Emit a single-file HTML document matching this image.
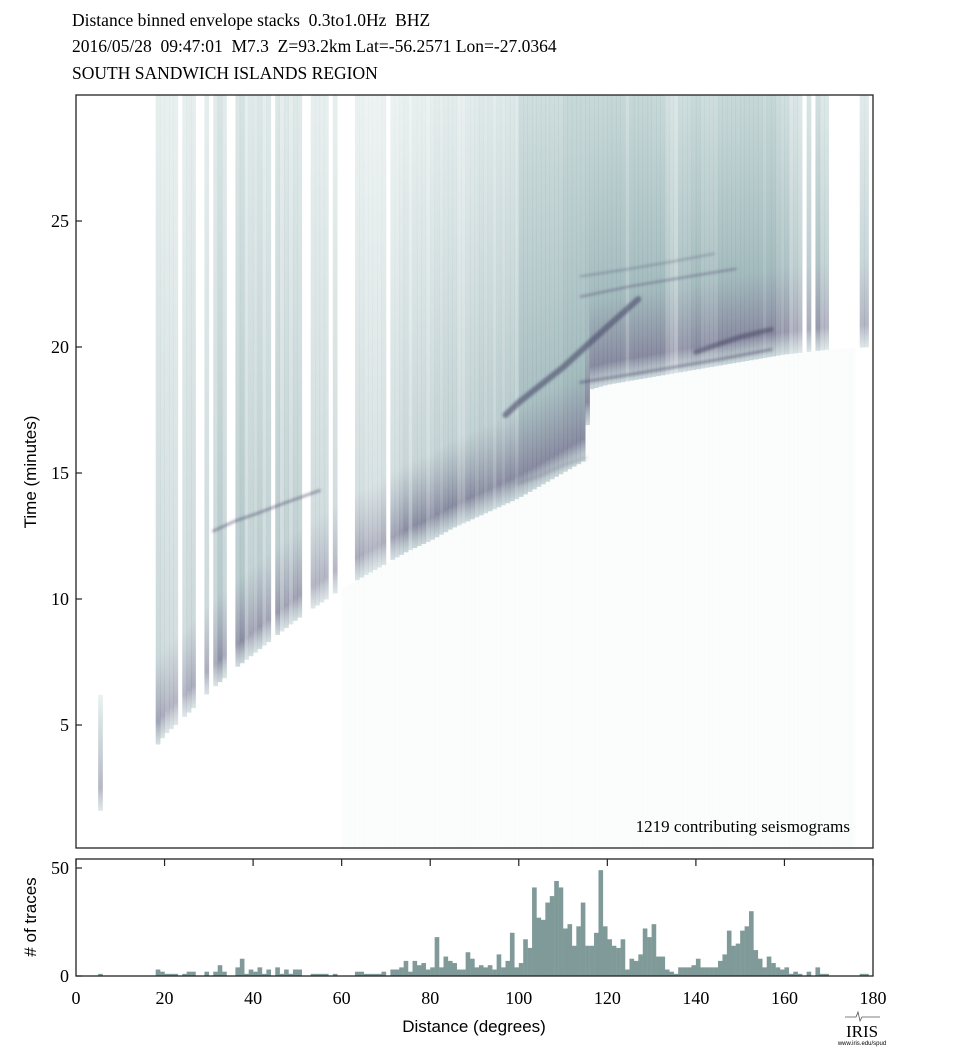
<!DOCTYPE html>
<html><head><meta charset="utf-8"><style>
html,body{margin:0;padding:0;background:#fff;}
svg{display:block;}
.serif{font-family:"Liberation Serif",serif;}
.sans{font-family:"Liberation Sans",sans-serif;}
.pre{white-space:pre;}
</style></head><body>
<svg id="chart" width="972" height="1060" viewBox="0 0 972 1060" xmlns="http://www.w3.org/2000/svg">
<defs id="defs"><filter id="soft" x="-5%" y="-50%" width="110%" height="200%"><feGaussianBlur stdDeviation="1.2"/></filter></defs>
<g class="serif pre" font-size="17.5" fill="#000">
<text x="72" y="26" class="pre">Distance binned envelope stacks  0.3to1.0Hz  BHZ</text>
<text x="72" y="52" class="pre">2016/05/28  09:47:01  M7.3  Z=93.2km Lat=-56.2571 Lon=-27.0364</text>
<text x="72" y="79" class="pre">SOUTH SANDWICH ISLANDS REGION</text>
</g>
<g id="heat"></g>
<g id="phases" filter="url(#soft)"></g>
<rect x="76" y="95" width="797" height="753" fill="none" stroke="#222" stroke-width="1.3"/>
<g id="yticks"></g>
<text x="850" y="832" text-anchor="end" class="serif" font-size="17">1219 contributing seismograms</text>
<text transform="translate(36,472) rotate(-90)" text-anchor="middle" class="sans" font-size="17">Time (minutes)</text>
<g id="hist"></g>
<rect x="76" y="859" width="797" height="117" fill="none" stroke="#222" stroke-width="1.3"/>
<g id="xticks"></g>
<text transform="translate(36,917) rotate(-90)" text-anchor="middle" class="sans" font-size="17"># of traces</text>
<text x="474" y="1032" text-anchor="middle" class="sans" font-size="17">Distance (degrees)</text>
<g>
<path d="M845 1017 L856 1017 L858 1012 L860 1021 L862 1017 L880 1017" fill="none" stroke="#555" stroke-width="0.8"/>
<text x="862" y="1037" text-anchor="middle" class="serif" font-size="17">IRIS</text>
<text x="862" y="1045" text-anchor="middle" class="sans" font-size="6">www.iris.edu/spud</text>
</g>
</svg>
<script>
const counts=[0,0,0,0,0,1,0,0,0,0,0,0,0,0,0,0,0,0,
3,2,1,1,1,0,1,2,2,0,0,2,0,2,5,2,0,0,4,8,1,3,2,4,1,3,0,4,1,3,1,3,3,0,0,1,1,1,1,0,1,0,0,0,0,
2,2,1,1,1,1,2,0,3,3,4,7,2,7,5,6,3,4,18,4,9,7,6,3,3,11,8,4,5,4,5,3,10,4,7,20,4,
6,17,13,41,27,26,34,37,44,41,22,24,14,23,34,14,14,20,49,23,17,14,13,17,3,8,7,10,22,18,24,9,9,3,2,1,4,4,4,5,
8,4,4,4,4,7,10,21,14,15,21,23,30,12,8,4,9,6,4,3,4,1,2,1,0,2,0,4,1,1,0,0,0,0,0,0,0,1,1,0];
const onsetDeg=[18,20,25,30,35,40,45,50,55,60,65,70,75,80,85,90,95,100,105,110,115,116,120,130,140,150,160,170,180];
const onsetMin=[4.1,4.6,5.4,6.3,7.1,7.8,8.5,9.2,9.8,10.4,10.9,11.4,11.9,12.3,12.8,13.2,13.6,14.0,14.5,15.0,15.5,18.3,18.5,18.8,19.1,19.4,19.7,19.9,20.0];
const upperLevel=[0.3,0.3,0.34,0.38,0.38,0.36,0.26,0.22,0.26,0.32,0.46,0.52,0.54,0.52,0.52,0.54,0.5,0.45];
const hTicks=[0,20,40,60,80,100,120,140,160,180];
const tTicks=[5,10,15,20,25];
const cTicks=[0,50];
const phaseA={deg:[97,100,105,110,115,120,127],min:[17.3,17.8,18.5,19.2,20.0,20.8,21.9]};
const phaseB={deg:[114,125,135,145,157],min:[18.6,18.9,19.2,19.5,19.9]};
const phaseC={deg:[140,145,150,157],min:[19.8,20.1,20.4,20.7]};
const phaseD={deg:[114,125,135,149],min:[22.0,22.4,22.7,23.1]};
const phaseE={deg:[114,125,135,144],min:[22.8,23.1,23.4,23.7]};
const phaseF={deg:[31,36,41,47,55],min:[12.7,13.1,13.4,13.8,14.3]};
const phaseG={deg:[100,105,110,115],min:[14.6,14.9,15.3,15.6]};

const NS='http://www.w3.org/2000/svg';
const X0=76,XS=(873-76)/180,T0=851,TS=25.2,C0=976,CS=108/50;
const xs=d=>X0+d*XS, ys=t=>T0-t*TS, yc=c=>C0-c*CS;
function mk(tag,at,parent){const e=document.createElementNS(NS,tag);for(const k in at)e.setAttribute(k,at[k]);parent.appendChild(e);return e;}
function onsetAt(d){if(d<onsetDeg[0])return 1.6;for(let i=0;i<onsetDeg.length-1;i++){if(d>=onsetDeg[i]&&d<onsetDeg[i+1]){const f=(d-onsetDeg[i])/(onsetDeg[i+1]-onsetDeg[i]);return onsetMin[i]+f*(onsetMin[i+1]-onsetMin[i]);}}return onsetMin[onsetMin.length-1];}
const defs=document.getElementById('defs'),heat=document.getElementById('heat');
for(let d=60;d<176;d++){
  const r=mk('rect',{x:xs(d),y:ys(onsetAt(d+0.5)),width:XS+0.3,height:T0-ys(onsetAt(d+0.5)),fill:'rgba(205,222,222,0.08)'},heat);
  
  
}
counts.forEach((c,d)=>{
  if(c<=0)return;
  const on=onsetAt(d+0.5);
  const top=d<10?6.2:30;
  const amp=Math.min(1,0.55+c/12);
  const up=upperLevel[Math.min(17,Math.floor(d/10))];
  const g=mk('linearGradient',{id:'g'+d,x1:0,y1:0,x2:0,y2:1},defs);
  const span=top-on;
  const o1=Math.max(0,1-3.5/span),o2=Math.max(0,1-0.9/span);
  mk('stop',{offset:0,'stop-color':'rgb(150,182,182)','stop-opacity':(up*amp).toFixed(3)},g);
  mk('stop',{offset:o1,'stop-color':'rgb(125,158,162)','stop-opacity':(Math.min(0.7,up+0.2)*amp).toFixed(3)},g);
  mk('stop',{offset:o2,'stop-color':'rgb(88,92,122)','stop-opacity':(0.7*amp).toFixed(3)},g);
  mk('stop',{offset:1,'stop-color':'rgb(140,170,175)','stop-opacity':(0.45*amp).toFixed(3)},g);
  const r=mk('rect',{x:xs(d),y:ys(top),width:XS+0.3,height:ys(on)-ys(top),fill:'url(#g'+d+')'},heat);
  
  
});
const ph=document.getElementById('phases');
[[phaseA,6,0.6],[phaseB,3,0.45],[phaseC,5,0.55],[phaseD,2,0.45],[phaseE,2,0.35],[phaseF,2.5,0.5],[phaseG,4,0.15]].forEach(([p,w,o],i)=>{
  const pts=p.deg.map((d,k)=>xs(d).toFixed(1)+','+ys(p.min[k]).toFixed(1)).join(' ');
  const l=mk('polyline',{points:pts,fill:'none',stroke:'#4a4868','stroke-width':w,'stroke-opacity':o,'stroke-linecap':'round'},ph);
  
  
});
const yt=document.getElementById('yticks');
tTicks.forEach(t=>{
  const l=mk('line',{x1:76,x2:82,y1:ys(t),y2:ys(t),stroke:'#222','stroke-width':1.2},yt);
  
  
  const tx=mk('text',{x:69,y:ys(t)+6,'text-anchor':'end','font-size':18,'font-family':'Liberation Serif, serif'},yt);
  tx.textContent=t;
  
  
});
const hg=document.getElementById('hist');
counts.forEach((c,d)=>{
  if(c<=0)return;
  const r=mk('rect',{x:xs(d),y:yc(c),width:XS+0.2,height:C0-yc(c),fill:'#7f9a98'},hg);
  
  
});
cTicks.forEach(c=>{
  const tx=mk('text',{x:69,y:yc(c)+6,'text-anchor':'end','font-size':18,'font-family':'Liberation Serif, serif'},hg);
  tx.textContent=c;
  
  
  const l=mk('line',{x1:76,x2:82,y1:yc(c),y2:yc(c),stroke:'#222','stroke-width':1.2},hg);
  
  
});
const xt=document.getElementById('xticks');
hTicks.forEach(d=>{
  const l=mk('line',{x1:xs(d),x2:xs(d),y1:859,y2:866,stroke:'#222','stroke-width':1.2},xt);
  
  
  const tx=mk('text',{x:xs(d),y:1004,'text-anchor':'middle','font-size':18,'font-family':'Liberation Serif, serif'},xt);
  tx.textContent=d;
  
  
});
</script>
</body></html>
